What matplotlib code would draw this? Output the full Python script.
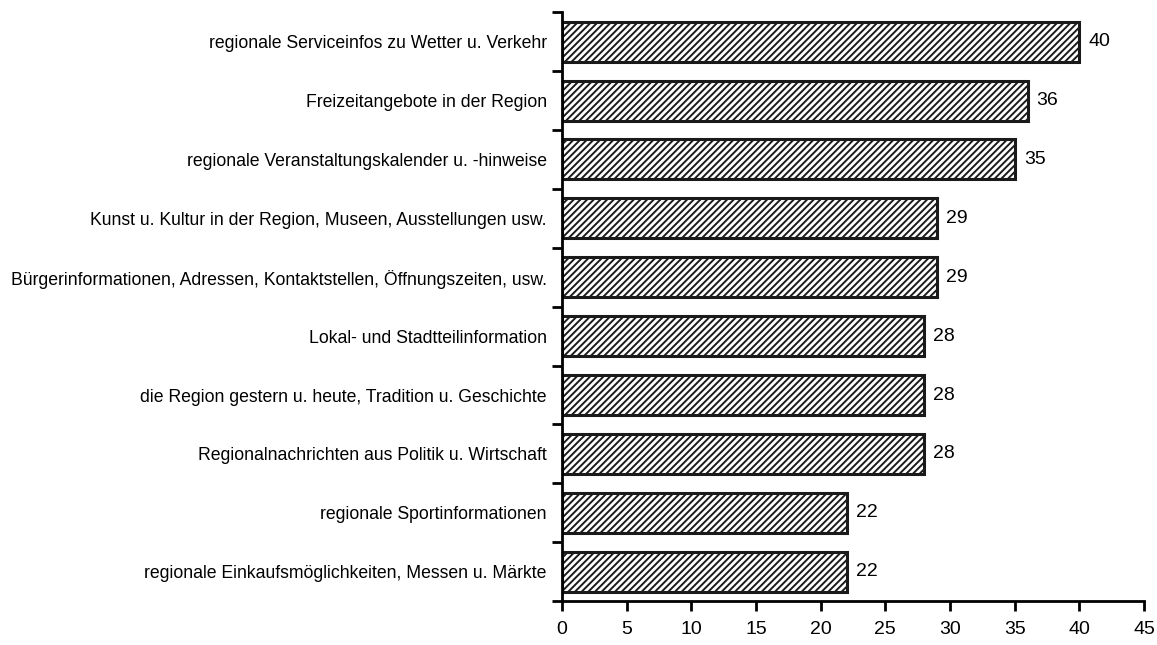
import matplotlib.pyplot as plt
import numpy as np

# Daten (von oben nach unten)
kategorien = [
    "regionale Serviceinfos zu Wetter u. Verkehr",
    "Freizeitangebote in der Region",
    "regionale Veranstaltungskalender u. -hinweise",
    "Kunst u. Kultur in der Region, Museen, Ausstellungen usw.",
    "Bürgerinformationen, Adressen, Kontaktstellen, Öffnungszeiten, usw.",
    "Lokal- und Stadtteilinformation",
    "die Region gestern u. heute, Tradition u. Geschichte",
    "Regionalnachrichten aus Politik u. Wirtschaft",
    "regionale Sportinformationen",
    "regionale Einkaufsmöglichkeiten, Messen u. Märkte",
]
werte = [40, 36, 35, 29, 29, 28, 28, 28, 22, 22]
x_ticks = [0, 5, 10, 15, 20, 25, 30, 35, 40, 45]

plt.rcParams['font.family'] = ['Liberation Sans', 'DejaVu Sans']
plt.rcParams['hatch.linewidth'] = 1.4

fig = plt.figure(figsize=(11.57, 6.45), dpi=100)
ax = fig.add_axes([0.4857, 0.068, 0.9888 - 0.4857, 0.981 - 0.068])

pos = np.arange(len(kategorien))[::-1]
ax.barh(pos, werte, height=0.68, color='white', edgecolor='#1a1a1a',
        linewidth=2.2, hatch='/////')

for p, w in zip(pos, werte):
    ax.text(w + 0.7, p, str(w), ha='left', va='center', fontsize=14)

ax.set_xlim(0, 45)
ax.set_ylim(-0.47, len(kategorien) - 0.5)
ax.set_xticks(x_ticks)
ax.set_xticklabels([str(t) for t in x_ticks], fontsize=14)

# Kategorie-Beschriftungen mittig, Striche zwischen den Balken
ax.set_yticks(np.arange(-0.5, len(kategorien), 1.0))
ax.set_yticklabels([])
ax.set_yticks(pos, minor=True)
ax.set_yticklabels(kategorien, minor=True, fontsize=12.7)
ax.tick_params(axis='y', which='minor', length=0, pad=11)
ax.tick_params(axis='y', which='major', length=7, width=2, direction='out')
ax.tick_params(axis='x', length=7, width=2, direction='out', pad=7)

for s in ['top', 'right']:
    ax.spines[s].set_visible(False)
for s in ['left', 'bottom']:
    ax.spines[s].set_linewidth(2)

fig.savefig('out.png', dpi=100, facecolor='white')
